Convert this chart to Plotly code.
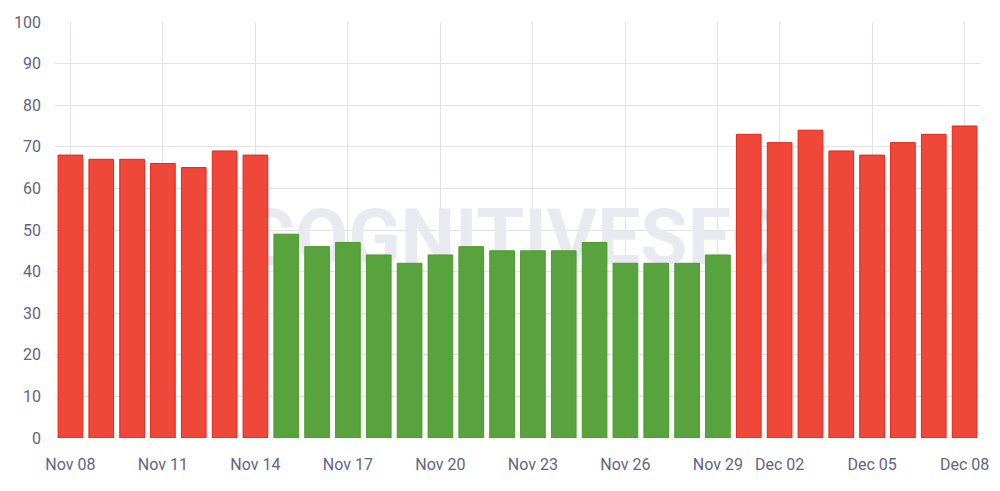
import plotly.graph_objects as go

dates = ["Nov 08", "Nov 09", "Nov 10", "Nov 11", "Nov 12", "Nov 13", "Nov 14",
         "Nov 15", "Nov 16", "Nov 17", "Nov 18", "Nov 19", "Nov 20", "Nov 21",
         "Nov 22", "Nov 23", "Nov 24", "Nov 25", "Nov 26", "Nov 27", "Nov 28",
         "Nov 29", "Dec 01", "Dec 02", "Dec 03", "Dec 04", "Dec 05", "Dec 06",
         "Dec 07", "Dec 08"]
values = [68, 67, 67, 66, 65, 69, 68,
          49, 46, 47, 44, 42, 44, 46, 45, 45, 45, 47, 42, 42, 42, 44,
          73, 71, 74, 69, 68, 71, 73, 75]
status = ["bad"] * 7 + ["good"] * 15 + ["bad"] * 8
tick_labels = ["Nov 08", "Nov 11", "Nov 14", "Nov 17", "Nov 20", "Nov 23",
               "Nov 26", "Nov 29", "Dec 02", "Dec 05", "Dec 08"]

fill = {"bad": "rgb(239,71,57)", "good": "rgb(88,163,62)"}
line = {"bad": "rgb(235,35,20)", "good": "rgb(75,158,35)"}

tick_pos = [dates.index(t) for t in tick_labels]

fig = go.Figure()
# watermark on the base subplot (drawn beneath the overlaid bar subplot)
fig.add_trace(go.Scatter(
    x=[14.4], y=[46.4], mode="text", text=["COGNITIVESEO"],
    textfont=dict(family="Roboto", size=77, color="rgb(233,234,241)", weight="bold"),
    hoverinfo="skip", showlegend=False, cliponaxis=False,
    xaxis="x", yaxis="y",
))
fig.add_trace(go.Bar(
    x=dates, y=values,
    marker=dict(color=[fill[s] for s in status],
                line=dict(color=[line[s] for s in status], width=1)),
    showlegend=False, xaxis="x2", yaxis="y2",
))

grid = "rgb(226,226,232)"
fig.update_layout(
    width=1000, height=491,
    margin=dict(l=47, r=28, t=14, b=61),
    paper_bgcolor="white", plot_bgcolor="white",
    bargap=0.2,
    font=dict(family="Roboto", size=16, color="rgb(100,99,130)"),
    xaxis=dict(range=[-0.5, 29.5], tickmode="array", tickvals=tick_pos,
               ticktext=tick_labels, showgrid=True, gridcolor=grid,
               ticks="", ticklabelstandoff=15, zeroline=False, showline=False,
               automargin=False),
    yaxis=dict(range=[0, 100], tickvals=list(range(0, 101, 10)),
               showgrid=True, gridcolor=grid, ticks="",
               ticklabelstandoff=13, zeroline=False, showline=False,
               automargin=False),
    xaxis2=dict(type="category", categoryorder="array", categoryarray=dates,
                range=[-0.5, 29.5], overlaying="x", visible=False,
                showgrid=False, automargin=False),
    yaxis2=dict(range=[0, 100], overlaying="y", visible=False,
                showgrid=False, automargin=False),
)

fig.write_html("out.html")
